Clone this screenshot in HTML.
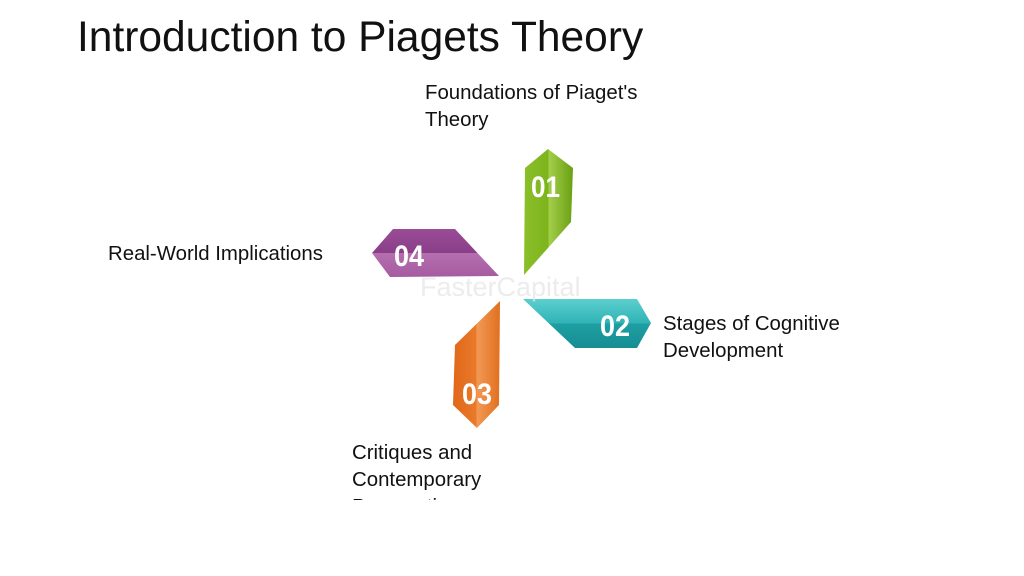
<!DOCTYPE html>
<html><head><meta charset="utf-8"><style>
body{margin:0;width:1024px;height:576px;background:#fff;position:relative;overflow:hidden;font-family:"Liberation Sans",sans-serif;color:#111}
.t{position:absolute;font-size:20.4px;line-height:27px}
h1{position:absolute;left:77px;top:14px;margin:0;font-weight:normal;font-size:42.5px;color:#111}
</style></head><body>
<h1>Introduction to Piagets Theory</h1>
<div class="t" style="left:425px;top:80px">Foundations of Piaget's<br>Theory</div>
<div class="t" style="left:108px;top:241px">Real-World Implications</div>
<div class="t" style="left:663px;top:311px">Stages of Cognitive<br>Development</div>
<div class="t" style="left:352px;top:440px;height:60px;overflow:hidden">Critiques and<br>Contemporary<br>Perspectives</div>
<svg width="1024" height="576" style="position:absolute;left:0;top:0">
<defs>
<linearGradient id="g" x1="0" x2="1"><stop offset="0" stop-color="#8cbf2a"/><stop offset="0.5" stop-color="#7cb41c"/><stop offset="0.5" stop-color="#a4cf4a"/><stop offset="1" stop-color="#6aa014"/></linearGradient>
<linearGradient id="p" x1="0" y1="0" x2="0" y2="1"><stop offset="0" stop-color="#9a4d96"/><stop offset="0.5" stop-color="#8a3e88"/><stop offset="0.5" stop-color="#b56fb0"/><stop offset="1" stop-color="#a55ba0"/></linearGradient>
<linearGradient id="c" x1="0" y1="0" x2="0" y2="1"><stop offset="0" stop-color="#5ccfcf"/><stop offset="0.5" stop-color="#2fb3b5"/><stop offset="0.5" stop-color="#1e9fa3"/><stop offset="1" stop-color="#168e92"/></linearGradient>
<linearGradient id="o" x1="0" x2="1"><stop offset="0" stop-color="#e0671a"/><stop offset="0.5" stop-color="#ea7a2a"/><stop offset="0.5" stop-color="#f29a55"/><stop offset="1" stop-color="#e0701f"/></linearGradient>
</defs>
<polygon points="525,168 548,149 573,168 571,222 524,275" fill="url(#g)"/>
<polygon points="372,253 393,229 455,229 499,276 390,277" fill="url(#p)"/>
<polygon points="523,299 637,299 651,323 637,348 575,348" fill="url(#c)"/>
<polygon points="500,301 499,405 477,428 453,405 455,345" fill="url(#o)"/>
<g fill="#fff" font-family="Liberation Sans Narrow,Liberation Sans,sans-serif" font-weight="bold" font-size="30">
<text x="531" y="197" textLength="29" lengthAdjust="spacingAndGlyphs">01</text>
<text x="394" y="266" textLength="30" lengthAdjust="spacingAndGlyphs">04</text>
<text x="600" y="336" textLength="30" lengthAdjust="spacingAndGlyphs">02</text>
<text x="462" y="404" textLength="30" lengthAdjust="spacingAndGlyphs">03</text>
</g>
<text x="420" y="296" font-size="27" fill="#e4e4e4" opacity="0.7">FasterCapital</text>
</svg>
</body></html>
